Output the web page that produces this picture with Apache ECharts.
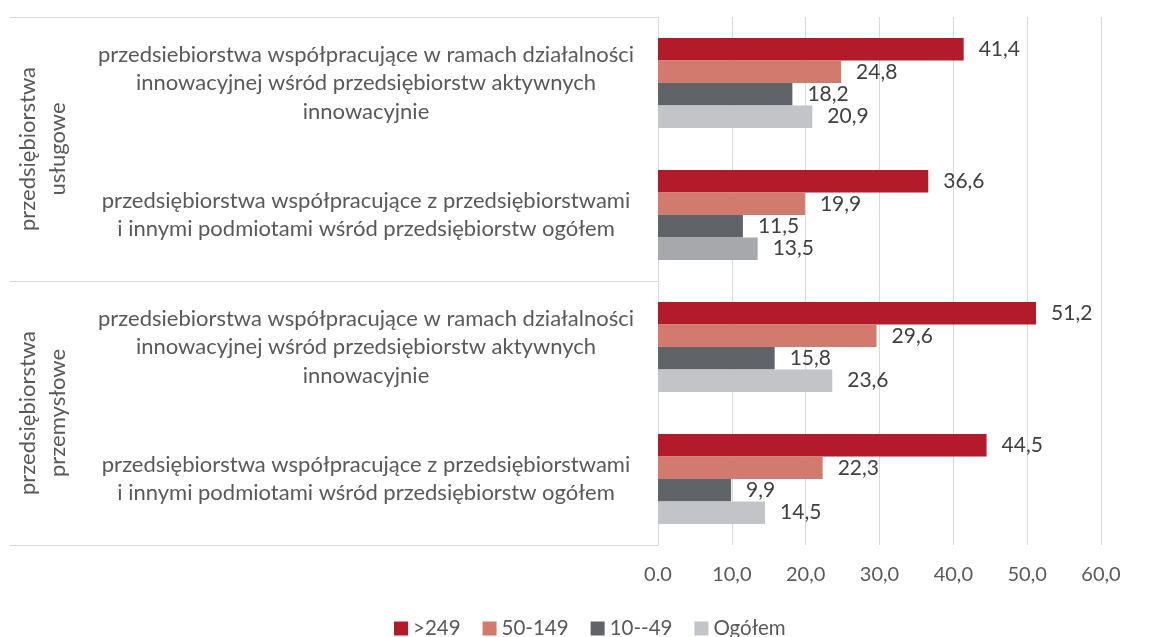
<!DOCTYPE html>
<html>
<head>
    <meta charset="utf-8">
    <script src="https://cdn.jsdelivr.net/npm/echarts@6/dist/echarts.min.js"></script>
    <style>
        html, body { margin: 0; padding: 0; background: #fff; }
    </style>
</head>
<body>
    <div id="main" style="width: 1153px;height:637px;"></div>
    <script type="text/javascript">
        // categories (top to bottom)
        var categories = [
            'przedsiebiorstwa współpracujące w ramach działalności\ninnowacyjnej wśród przedsiębiorstw aktywnych\ninnowacyjnie',
            'przedsiębiorstwa współpracujące z przedsiębiorstwami\ni innymi podmiotami wśród przedsiębiorstw ogółem',
            'przedsiebiorstwa współpracujące w ramach działalności\ninnowacyjnej wśród przedsiębiorstw aktywnych\ninnowacyjnie',
            'przedsiębiorstwa współpracujące z przedsiębiorstwami\ni innymi podmiotami wśród przedsiębiorstw ogółem'
        ];
        var groups = ['przedsiębiorstwa\nusługowe', 'przedsiębiorstwa\nprzemysłowe'];

        var seriesNames = ['>249', '50-149', '10--49', 'Ogółem'];
        var over249 = [41.4, 36.6, 51.2, 44.5];
        var s50to149 = [24.8, 19.9, 29.6, 22.3];
        var s10to49 = [18.2, 11.5, 15.8, 9.9];
        var total = [20.9, 13.5, 23.6, 14.5];

        var xTickLabels = ['0.0', '10,0', '20,0', '30,0', '40,0', '50,0', '60,0'];

        var colors = ['#b41b2a', '#d27a6e', '#606468', '#c2c4c7'];
        var totalHighlight = '#a6a8ab';

        var font = 'Lato';
        var textGray = '#595959';
        var lineGray = '#d9d9d9';

        var myChart = echarts.init(document.getElementById('main'));

        function fmt(v) {
            return v.toFixed(1).replace('.', ',');
        }

        var seriesData = [over249, s50to149, s10to49, total];
        var series = [];
        for (var i = 0; i < seriesData.length; i++) {
            var data = seriesData[i].map(function (v, j) {
                if (i == 3 && j == 1) {
                    return { value: v, itemStyle: { color: totalHighlight } };
                }
                return v;
            });
            series.push({
                name: seriesNames[i],
                type: 'bar',
                data: data,
                barCategoryGap: '32%',
                barGap: '0%',
                itemStyle: { color: colors[i] },
                label: {
                    show: true,
                    position: 'right',
                    distance: 15,
                    color: '#404040',
                    fontFamily: font,
                    fontSize: 21,
                    formatter: function (p) { return fmt(p.value); }
                }
            });
        }

        var option = {
            animation: false,
            textStyle: { fontFamily: font },
            legend: {
                data: seriesNames,
                left: 389,
                top: 613,
                icon: 'rect',
                itemWidth: 14,
                itemHeight: 14,
                itemGap: 22,
                textStyle: { color: textGray, fontSize: 20.5, fontFamily: font }
            },
            grid: {
                left: 658,
                right: 52,
                top: 17,
                bottom: 92,
                containLabel: false,
                outerBoundsMode: 'none'
            },
            xAxis: {
                type: 'value',
                min: 0,
                max: 60,
                interval: 10,
                axisLine: { show: false },
                axisTick: { show: false },
                splitLine: { lineStyle: { color: lineGray, width: 1 } },
                axisLabel: {
                    color: textGray,
                    fontSize: 20,
                    fontFamily: font,
                    margin: 20,
                    formatter: function (v) { return xTickLabels[Math.round(v / 10)]; }
                }
            },
            yAxis: [
                {
                    type: 'category',
                    data: categories,
                    inverse: true,
                    position: 'left',
                    axisLine: { show: true, lineStyle: { color: lineGray, width: 1 } },
                    axisTick: { show: false },
                    axisLabel: {
                        color: textGray,
                        fontSize: 22,
                        fontFamily: font,
                        lineHeight: 28.5,
                        align: 'center',
                        margin: 292
                    }
                },
                {
                    type: 'category',
                    data: groups,
                    inverse: true,
                    position: 'left',
                    axisLine: { show: false },
                    axisTick: { show: true, length: 648, lineStyle: { color: lineGray, width: 1 } },
                    axisLabel: {
                        color: textGray,
                        fontSize: 22,
                        fontFamily: font,
                        lineHeight: 30,
                        rotate: 90,
                        verticalAlign: 'middle',
                        margin: 615
                    }
                }
            ],
            series: series
        };
        myChart.setOption(option);
    </script>
</body>
</html>
